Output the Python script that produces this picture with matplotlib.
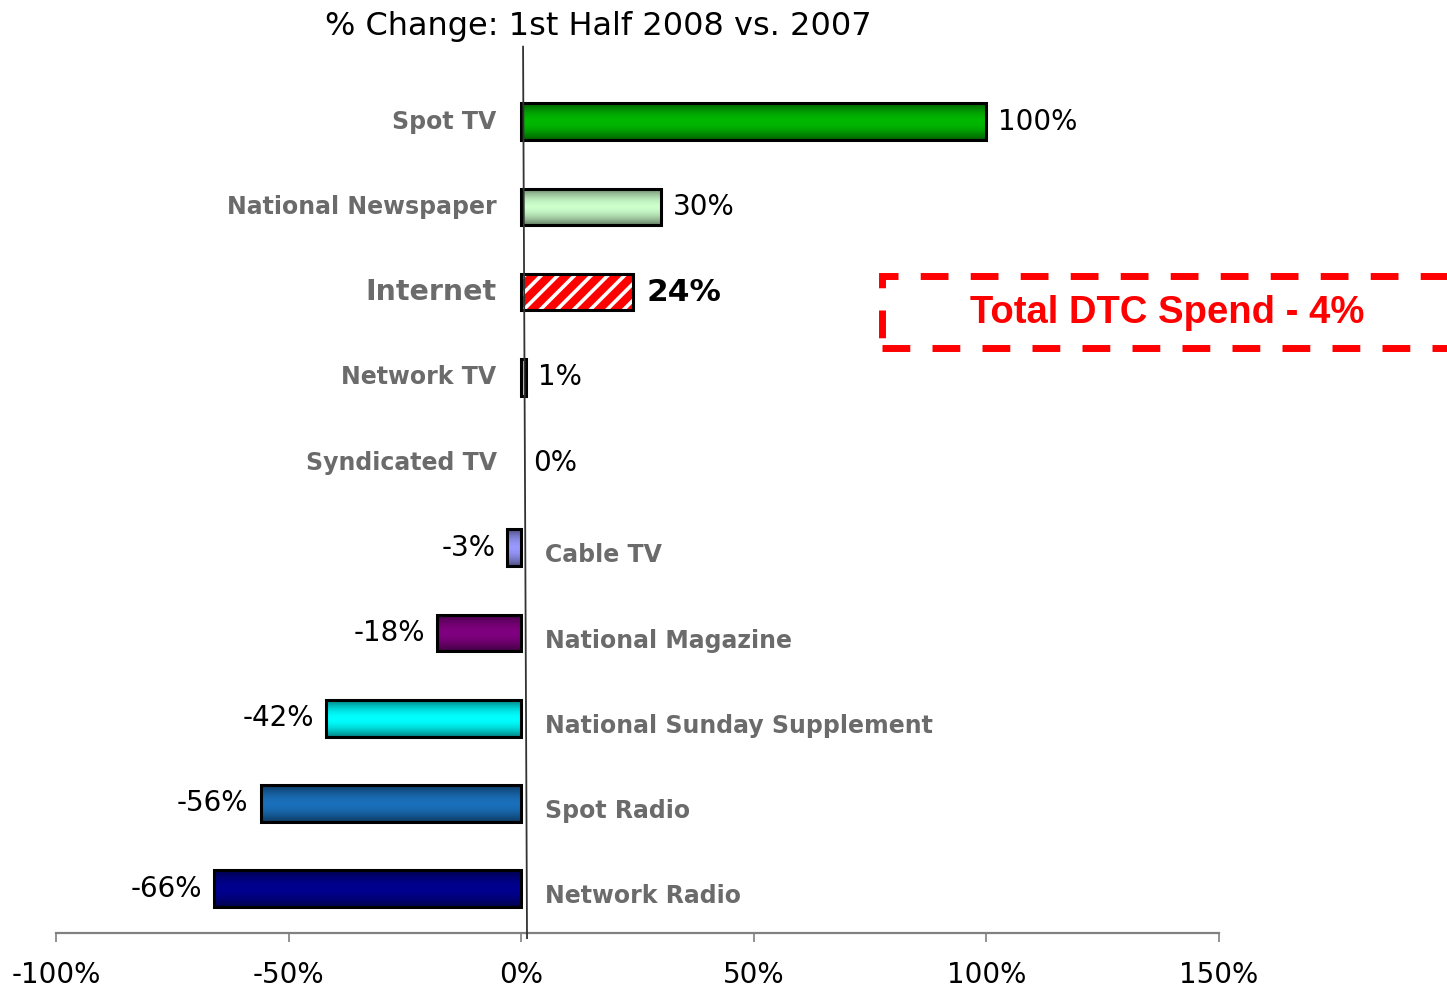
import numpy as np
import matplotlib
matplotlib.use("Agg")
import matplotlib.pyplot as plt
from matplotlib.colors import to_rgb
from matplotlib.patches import Rectangle

categories = ["Spot TV", "National Newspaper", "Internet", "Network TV", "Syndicated TV",
              "Cable TV", "National Magazine", "National Sunday Supplement", "Spot Radio",
              "Network Radio"]
changes = [100, 30, 24, 1, 0, -3, -18, -42, -56, -66]
bar_colors = ["#00b800", "#ccffcc", "#ff0000", "#000000", "#ffffff",
              "#9999ff", "#800080", "#00ffff", "#1a70bb", "#000090"]
xticks = [-100, -50, 0, 50, 100, 150]
total_note = "Total DTC Spend - 4%"

plt.rcParams["font.family"] = ["DejaVu Sans"]
plt.rcParams["hatch.linewidth"] = 2.6

fig = plt.figure(figsize=(14.47, 9.89), dpi=100)
ax = fig.add_axes([56 / 1447, 1 - 933 / 989, (1219 - 56) / 1447, (933 - 45) / 989])

ypos = np.arange(len(categories))
bh = 0.43


def shaded(ax, x0, w, y, color):
    # vertical gradient: darker at the top and bottom edges of the bar
    mid = np.array(to_rgb(color))
    dark = mid * 0.5
    t = np.abs(np.linspace(-1, 1, 64)) ** 1.8
    img = mid[None, :] * (1 - t[:, None]) + dark[None, :] * t[:, None]
    img = img[:, None, :]
    return ax.imshow(img, extent=(x0, x0 + w, y + bh / 2, y - bh / 2),
                     aspect="auto", zorder=2, interpolation="bilinear")


for i, (cat, v, c) in enumerate(zip(categories, changes, bar_colors)):
    if v == 0:
        continue
    if cat == "Internet":
        ax.barh(i, v, height=bh, color=c, lw=0, zorder=2)
        ax.barh(i, v, height=bh, facecolor="none", edgecolor="white", lw=0,
                hatch="//", zorder=3)
    elif cat != "Network TV":
        p = ax.barh(i, v, height=bh, color="none", lw=0, zorder=2)[0]
        im = shaded(ax, 0, v, i, c)
        im.set_clip_path(p)
    ax.barh(i, v, height=bh, facecolor="none", edgecolor="black", lw=2.2, zorder=4)

# category and value labels
for i, (cat, v) in enumerate(zip(categories, changes)):
    lab = f"{v}%"
    if v >= 0:
        if cat == "Internet":
            ax.text(-5.3, i, cat, ha="right", va="center", fontsize=20.5,
                    fontweight="bold", color="#6b6b6b")
            ax.text(v + 3, i, lab, ha="left", va="center", fontsize=22.5,
                    fontweight="bold", color="black")
        else:
            ax.text(-5.3, i, cat, ha="right", va="center", fontsize=17,
                    fontweight="bold", color="#6b6b6b")
            ax.text(v + 2.6, i, lab, ha="left", va="center", fontsize=20,
                    color="black")
    else:
        ax.text(5.1, i + 0.09, cat, ha="left", va="center", fontsize=17,
                fontweight="bold", color="#6b6b6b")
        ax.text(v - 2.6, i, lab, ha="right", va="center", fontsize=20,
                color="black")

# zero line, drawn slightly leaning like the original slide
ax.plot([0.4, 1.25], [-0.88, 9.58], color="#333333", lw=1.3, zorder=5, clip_on=False)

ax.set_xlim(-100, 150)
ax.set_ylim(9.52, -0.9)
ax.set_yticks([])
ax.set_xticks(xticks)
ax.set_xticklabels([f"{t}%" for t in xticks], fontsize=20)
ax.tick_params(axis="x", colors="#808080", labelcolor="black", length=6.5,
               width=1.2, pad=14)
for s in ["left", "top", "right"]:
    ax.spines[s].set_visible(False)
ax.spines["bottom"].set_color("#808080")
ax.spines["bottom"].set_linewidth(1.6)

fig.text(598 / 1447, 1 - 26 / 989, "% Change: 1st Half 2008 vs. 2007",
         ha="center", va="center", fontsize=23, color="black")

# dashed callout box
box = Rectangle((882 / 1447, 1 - 348 / 989), 600 / 1447, 72 / 989,
                transform=fig.transFigure, facecolor="none", edgecolor="#ff0000",
                lw=5, linestyle=(0, (4, 3.2)), clip_on=False)
fig.add_artist(box)
fig.text(1167 / 1447, 1 - 313 / 989, total_note, ha="center", va="center",
         fontsize=27.5, fontweight="bold", color="#ff0000", family="Liberation Sans")

fig.savefig("out.png", dpi=100)
